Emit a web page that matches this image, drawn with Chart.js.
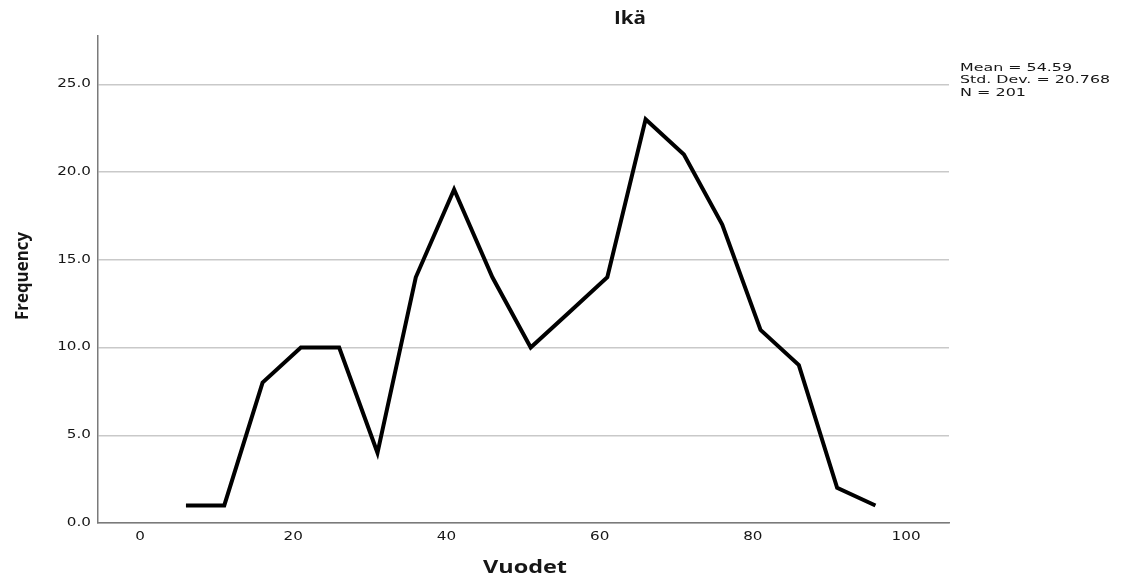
<!DOCTYPE html>
<html>
<head>
<meta charset="utf-8">
<script src="https://cdn.jsdelivr.net/npm/chart.js@4/dist/chart.umd.min.js"></script>
<style>
html,body{margin:0;padding:0;background:#fff;}
canvas{display:block;}
</style>
</head>
<body>
<canvas id="c" width="1121" height="579"></canvas>
<script>
// Data
const ageMidpoints = [6, 11, 16, 21, 26, 31, 36, 41, 46, 51, 56, 61, 66, 71, 76, 81, 86, 91, 96];
const frequencies  = [1, 1, 8, 10, 10, 4, 14, 19, 14, 10, 12, 14, 23, 21, 17, 11, 9, 2, 1];
const xTickValues = [0, 20, 40, 60, 80, 100];
const yTickValues = [0, 5, 10, 15, 20, 25];
const chartTitle = "Ikä";
const xTitle = "Vuodet";
const yTitle = "Frequency";
const statLines = ["Mean = 54.59", "Std. Dev. = 20.768", "N = 201"];

const TEXT = '#161616';

function drawStretched(ctx, str, x, y, font, opts) {
  ctx.save();
  ctx.font = font;
  ctx.fillStyle = TEXT;
  ctx.textBaseline = 'middle';
  const w = ctx.measureText(str).width;
  let sx = opts.sx || 1;
  if (opts.width) sx = opts.width / w;
  ctx.translate(x, y);
  if (opts.rotate) ctx.rotate(opts.rotate);
  ctx.scale(sx, 1);
  ctx.textAlign = opts.align || 'center';
  ctx.fillText(str, 0, 0);
  ctx.restore();
}

const textPlugin = {
  id: 'texts',
  afterDraw(chart) {
    const ctx = chart.ctx;
    const xs = chart.scales.x, ys = chart.scales.y;
    const tickFont = '11.5px "DejaVu Sans"';
    yTickValues.forEach(v => {
      drawStretched(ctx, v.toFixed(1), 91, ys.getPixelForValue(v), tickFont, {sx: 1.32, align: 'right'});
    });
    xTickValues.forEach(v => {
      drawStretched(ctx, String(v), xs.getPixelForValue(v), 537, tickFont, {sx: 1.32, align: 'center'});
    });
    drawStretched(ctx, chartTitle, 630, 19, 'bold 17px "Open Sans"', {width: 32});
    drawStretched(ctx, xTitle, 525, 568, 'bold 17px "Open Sans"', {width: 84});
    drawStretched(ctx, yTitle, 23, 276, 'bold 18px "Open Sans"', {width: 88, rotate: -Math.PI / 2});
    const statWidths = [112, 150, 66];
    statLines.forEach((s, i) => {
      drawStretched(ctx, s, 960, 68 + i * 12.5, '11px "DejaVu Sans"', {width: statWidths[i], align: 'left'});
    });
  }
};

new Chart(document.getElementById('c'), {
  type: 'line',
  data: {
    datasets: [{
      data: ageMidpoints.map((x, i) => ({x: x, y: frequencies[i]})),
      borderColor: '#000',
      borderWidth: 4,
      pointRadius: 0,
      tension: 0,
      fill: false,
      borderJoinStyle: 'miter'
    }]
  },
  options: {
    responsive: false,
    devicePixelRatio: 1,
    animation: false,
    layout: {padding: {left: 98, right: 172, top: 36, bottom: 0}},
    plugins: {legend: {display: false}, tooltip: {enabled: false}, title: {display: false}},
    scales: {
      x: {
        type: 'linear',
        min: -5.48,
        max: 105.6,
        afterBuildTicks: s => { s.ticks = xTickValues.map(v => ({value: v})); },
        afterFit: s => { s.height = 56; },
        ticks: {display: false},
        grid: {display: false, drawTicks: false},
        border: {display: true, color: '#7a7a7a', width: 1.5}
      },
      y: {
        type: 'linear',
        min: 0,
        max: 27.75,
        afterBuildTicks: s => { s.ticks = yTickValues.map(v => ({value: v})); },
        afterFit: s => { s.width = 0; },
        ticks: {display: false},
        grid: {display: true, color: '#c9c9c9', lineWidth: 1.5, drawTicks: false},
        border: {display: true, color: '#7a7a7a', width: 1.5}
      }
    }
  },
  plugins: [textPlugin]
});
</script>
</body>
</html>
